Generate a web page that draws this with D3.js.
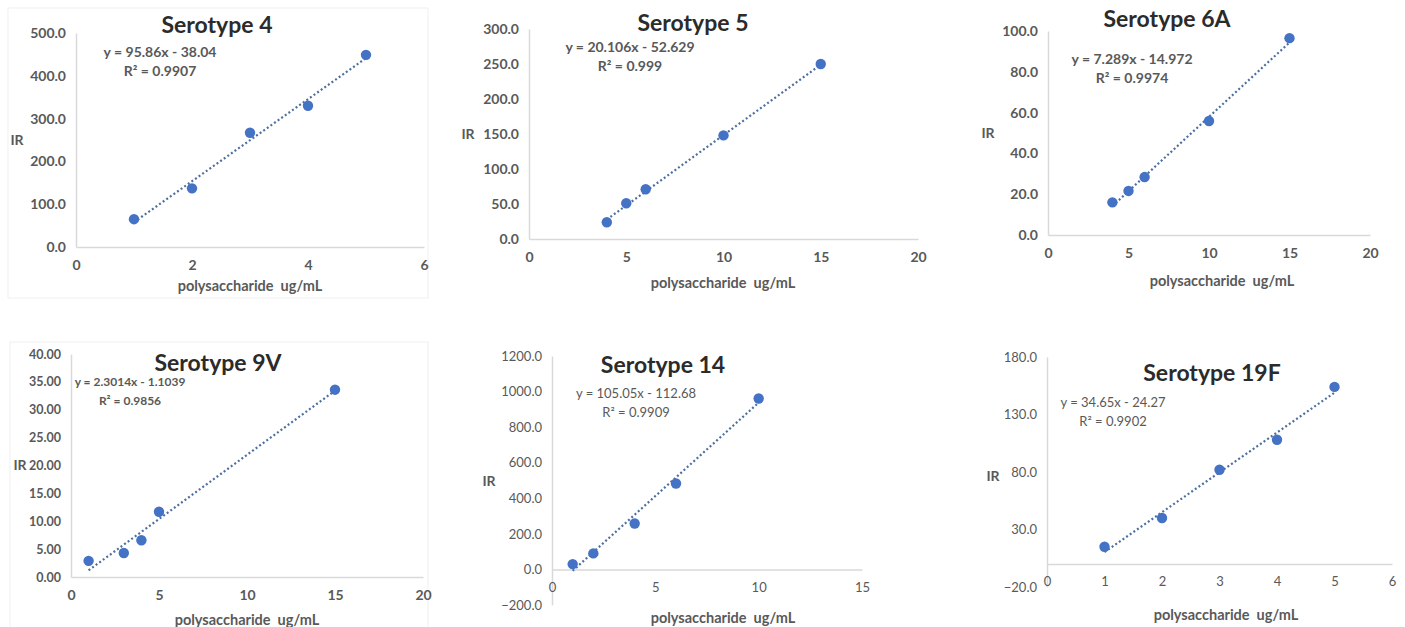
<!DOCTYPE html>
<html>
<head>
<meta charset="utf-8">
<script src="https://cdn.jsdelivr.net/npm/d3@7"></script>
<style>
  body { margin: 0; background: #fff; }
  svg { display: block; }
  text { font-family: Lato, "Open Sans", sans-serif; white-space: pre; }
</style>
</head>
<body>
<div id="chart"></div>
<script>
// ---- data ----
const titles = ["Serotype 4", "Serotype 5", "Serotype 6A", "Serotype 9V", "Serotype 14", "Serotype 19F"];
const concentrations = [
    [1, 2, 3, 4, 5],
    [4, 5, 6, 10, 15],
    [4, 5, 6, 10, 15],
    [1, 3, 4, 5, 15],
    [1, 2, 4, 6, 10],
    [1, 2, 3, 4, 5]
];
const irValues = [
    [65, 137, 267, 330, 449],
    [24, 51, 71, 148, 250],
    [16, 21.6, 28.4, 55.9, 96.5],
    [2.9, 4.3, 6.6, 11.7, 33.6],
    [30, 90, 258, 483, 961],
    [15, 40, 82, 108, 154]
];
const slopes = [95.86, 20.106, 7.289, 2.3014, 105.05, 34.65];
const intercepts = [-38.04, -52.629, -14.972, -1.1039, -112.68, -24.27];
const equations = ["y = 95.86x - 38.04", "y = 20.106x - 52.629", "y = 7.289x - 14.972",
                   "y = 2.3014x - 1.1039", "y = 105.05x - 112.68", "y = 34.65x - 24.27"];
const rSquared = ["R\u00b2 = 0.9907", "R\u00b2 = 0.999", "R\u00b2 = 0.9974",
                  "R\u00b2 = 0.9856", "R\u00b2 = 0.9909", "R\u00b2 = 0.9902"];
const xDomains = [[0, 6], [0, 20], [0, 20], [0, 20], [0, 15], [0, 6]];
const xTickValues = [[0, 2, 4, 6], [0, 5, 10, 15, 20], [0, 5, 10, 15, 20], [0, 5, 10, 15, 20], [0, 5, 10, 15], [0, 1, 2, 3, 4, 5, 6]];
const yDomains = [[0, 500], [0, 300], [0, 100], [0, 40], [-200, 1200], [-20, 180]];
const yTickValues = [
    [0, 100, 200, 300, 400, 500],
    [0, 50, 100, 150, 200, 250, 300],
    [0, 20, 40, 60, 80, 100],
    [0, 5, 10, 15, 20, 25, 30, 35, 40],
    [-200, 0, 200, 400, 600, 800, 1000, 1200],
    [-20, 30, 80, 130, 180]
];
const yFormats = [".1f", ".1f", ".1f", ".2f", ".1f", ".1f"];
const xTitle = "polysaccharide  ug/mL";
const yTitle = "IR";

// ---- layout (page pixels) ----
const layout = [
    {l: 76, r: 424, t: 33, b: 247, title: [217, 25], eq: [160, 52], eqSize: 14, irPos: [17, 140], xt: [250, 286], bold: true, tick: 14, frame: [8, 8, 428, 298]},
    {l: 529, r: 918, t: 29, b: 239, title: [693, 23], eq: [630, 47], eqSize: 14, irPos: [468, 134], xt: [723, 283], bold: true, tick: 14},
    {l: 1048, r: 1370, t: 31, b: 235, title: [1167, 19], eq: [1132, 59], eqSize: 14, irPos: [988, 133], xt: [1222, 281], bold: true, tick: 14},
    {l: 71, r: 423, t: 354, b: 577, title: [218, 363], eq: [130, 382], eqSize: 12, irPos: [20, 465], xt: [247, 620], bold: true, tick: 12.5, frame: [10, 342, 428, 640]},
    {l: 552, r: 862, t: 356, b: 605, title: [663, 365], eq: [636, 393], eqSize: 13, irPos: [489, 481], xt: [723, 618], bold: false, tick: 13},
    {l: 1047, r: 1392, t: 357, b: 587, title: [1212, 373], eq: [1113, 402], eqSize: 13, irPos: [993, 476], xt: [1226, 615], bold: false, tick: 13}
];

const width = 1405, height = 627;
const blue = "#4472c4";

const svg = d3.select("#chart").append("svg")
    .attr("width", width)
    .attr("height", height);

titles.forEach(function(title, i) {
    const L = layout[i];
    const g = svg.append("g").attr("class", "panel");

    if (L.frame) {
        g.append("rect")
            .attr("x", L.frame[0]).attr("y", L.frame[1])
            .attr("width", L.frame[2] - L.frame[0])
            .attr("height", L.frame[3] - L.frame[1])
            .attr("fill", "none")
            .attr("stroke", "#f0f0f0");
    }

    const x = d3.scaleLinear().domain(xDomains[i]).range([L.l, L.r]);
    const y = d3.scaleLinear().domain(yDomains[i]).range([L.b, L.t]);
    const tickWeight = L.bold ? "bold" : "normal";

    // y axis
    const yAxis = g.append("g")
        .attr("transform", "translate(" + L.l + ",0)")
        .call(d3.axisLeft(y).tickValues(yTickValues[i]).tickFormat(d3.format(yFormats[i])).tickSize(0).tickPadding(10));
    yAxis.select(".domain").attr("stroke", "#d9d9d9").attr("stroke-width", 1.5);
    yAxis.selectAll(".tick text")
        .attr("fill", "#595959")
        .style("font-size", L.tick + "px")
        .style("font-weight", tickWeight);

    // x axis along zero
    const xAxis = g.append("g")
        .attr("transform", "translate(0," + y(0) + ")")
        .call(d3.axisBottom(x).tickValues(xTickValues[i]).tickFormat(d3.format("d")).tickSize(0).tickPadding(13));
    xAxis.select(".domain").attr("stroke", "#d9d9d9").attr("stroke-width", 1.5);
    xAxis.selectAll(".tick text")
        .attr("fill", "#595959")
        .style("font-size", (L.bold ? 14 : 13) + "px")
        .style("font-weight", tickWeight);

    // trendline
    const xs = concentrations[i];
    const x0 = d3.min(xs), x1 = d3.max(xs);
    g.append("line")
        .attr("x1", x(x0)).attr("y1", y(slopes[i] * x0 + intercepts[i]))
        .attr("x2", x(x1)).attr("y2", y(slopes[i] * x1 + intercepts[i]))
        .attr("stroke", "#4d6f9f")
        .attr("stroke-width", 2.2)
        .attr("stroke-dasharray", "2,2.4");

    // points
    g.selectAll(".pt")
        .data(xs.map(function(c, k) { return {c: c, v: irValues[i][k]}; }))
        .enter()
        .append("circle")
        .attr("class", "pt")
        .attr("cx", function(d) { return x(d.c); })
        .attr("cy", function(d) { return y(d.v); })
        .attr("r", 5.2)
        .attr("fill", blue);

    // title
    g.append("text")
        .attr("x", L.title[0]).attr("y", L.title[1])
        .attr("dy", "0.35em")
        .attr("text-anchor", "middle")
        .attr("fill", "#2b2b2b")
        .style("font-size", "23px")
        .style("font-weight", "bold")
        .text(title);

    // equation
    g.append("text")
        .attr("x", L.eq[0]).attr("y", L.eq[1])
        .attr("dy", "0.35em")
        .attr("text-anchor", "middle")
        .attr("fill", "#595959")
        .style("font-size", L.eqSize + "px")
        .style("font-weight", tickWeight)
        .text(equations[i]);
    g.append("text")
        .attr("x", L.eq[0]).attr("y", L.eq[1] + 19)
        .attr("dy", "0.35em")
        .attr("text-anchor", "middle")
        .attr("fill", "#595959")
        .style("font-size", L.eqSize + "px")
        .style("font-weight", tickWeight)
        .text(rSquared[i]);

    // axis titles
    g.append("text")
        .attr("x", L.xt[0]).attr("y", L.xt[1])
        .attr("dy", "0.35em")
        .attr("text-anchor", "middle")
        .attr("fill", "#595959")
        .style("font-size", "14.5px")
        .style("font-weight", "bold")
        .text(xTitle);
    g.append("text")
        .attr("x", L.irPos[0]).attr("y", L.irPos[1])
        .attr("dy", "0.35em")
        .attr("text-anchor", "middle")
        .attr("fill", "#595959")
        .style("font-size", "14px")
        .style("font-weight", "bold")
        .text(yTitle);
});
</script>
</body>
</html>
